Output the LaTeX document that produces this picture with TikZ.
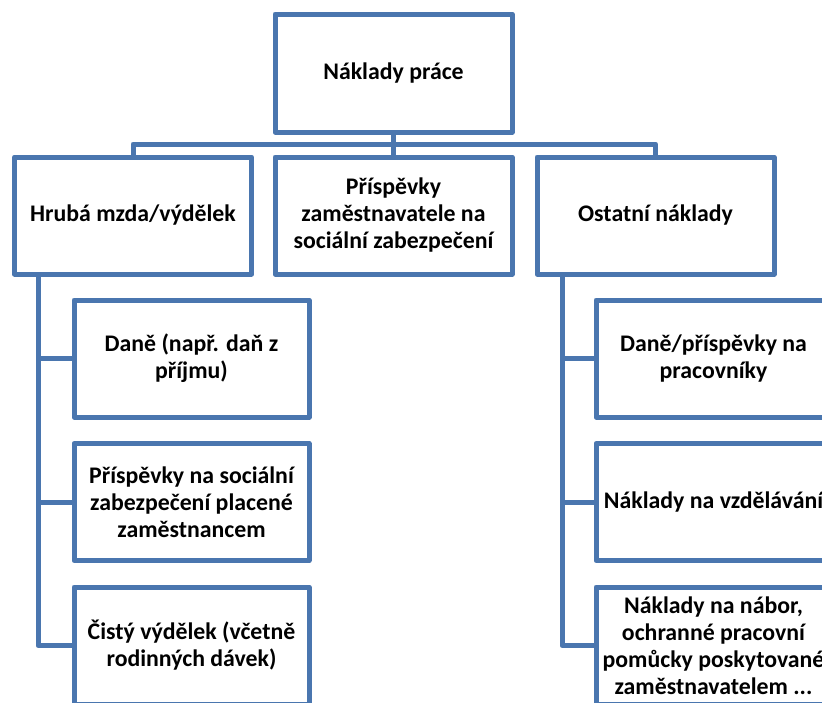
\documentclass[tikz,border=0pt]{standalone}
\usepackage{fontspec}
\setmainfont{Carlito}
\definecolor{boxblue}{RGB}{74,118,175}
\begin{document}
\begin{tikzpicture}[x=1pt,y=-1pt,
  box/.style={draw=boxblue, line width=5pt, line join=round, fill=white,
    minimum width=237pt, minimum height=117pt, inner sep=2pt,
    align=center, font=\fontsize{23.8}{27}\selectfont\bfseries},
  link/.style={draw=boxblue, line width=5pt, line join=round}]
\useasboundingbox (0,0) rectangle (822,702);
\clip (0,0) rectangle (822,702);
\fill[white] (0,0) rectangle (822,702);

% top
\node[box, minimum height=118pt] (top) at (393.5,73) {Náklady práce};
% second row
\node[box] (l) at (133,215.5) {Hrubá mzda/výdělek};
\node[box] (m) at (393.5,215.5) {Příspěvky\\zaměstnavatele na\\sociální zabezpečení};
\node[box] (r) at (655.5,215.5) {Ostatní náklady};

% left children
\node[box, minimum width=235pt] (c1) at (191.5,358.5) {Daně (např. daň z\\příjmu)};
\node[box, minimum width=235pt] (c2) at (191.5,502) {Příspěvky na sociální\\zabezpečení placené\\zaměstnancem};
\node[box, minimum width=235pt] (c3) at (191.5,645.5) {Čistý výdělek (včetně\\rodinných dávek)};

% right children
\node[box, minimum width=235pt] (d1) at (713.5,358.5) {Daně/příspěvky na\\pracovníky};
\node[box, minimum width=235pt] (d2) at (713.5,502) {Náklady na vzdělávání};
\node[box, minimum width=235pt] (d3) at (713.5,645.5) {Náklady na nábor,\\ochranné pracovní\\pomůcky poskytované\\zaměstnavatelem ...};

% bus
\coordinate (bus) at (393.5,144);
\draw[link] (top.south) -- (m.north);
\draw[link] (l.north) |- (bus) -| (r.north);

% left vertical
\coordinate (lv) at (38,274);
\draw[link] (lv) |- (c3.west);
\draw[link] (lv |- c1.west) -- (c1.west);
\draw[link] (lv |- c2.west) -- (c2.west);

% right vertical
\coordinate (rv) at (562,274);
\draw[link] (rv) |- (d3.west);
\draw[link] (rv |- d1.west) -- (d1.west);
\draw[link] (rv |- d2.west) -- (d2.west);
\end{tikzpicture}
\end{document}
